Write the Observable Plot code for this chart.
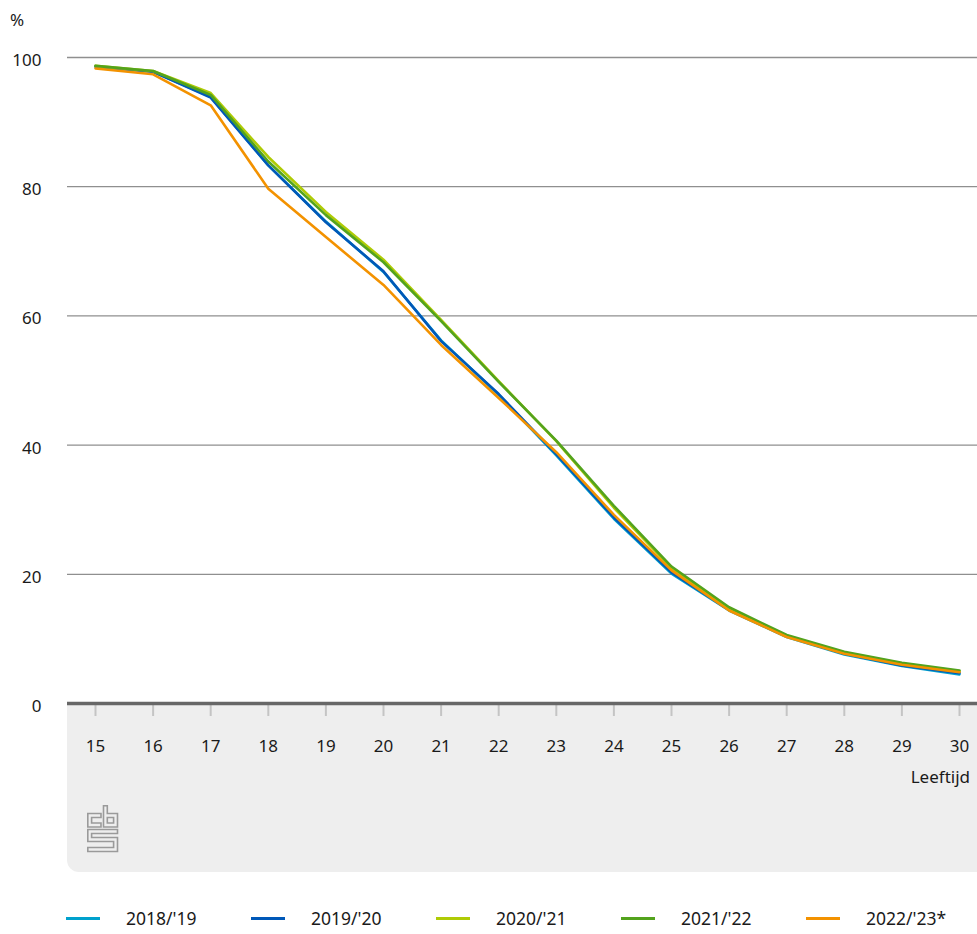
<!DOCTYPE html>
<html>
<head>
<meta charset="utf-8">
<script src="https://cdn.jsdelivr.net/npm/d3@7"></script>
<script src="https://cdn.jsdelivr.net/npm/@observablehq/plot@0.6"></script>
<style>
  html, body { margin: 0; padding: 0; background: #fff; }
  body { width: 977px; font-family: "Noto Sans", sans-serif; color: #1a1a1a; }
  #legend { position: relative; height: 54px; font-size: 17.5px; }
  .item { position: absolute; top: 28px; display: flex; align-items: center; height: 20px; }
  .sw { width: 34px; height: 3px; margin-right: 26px; }
</style>
</head>
<body>
<div id="chart"></div>
<div id="legend"></div>
<script>
const ages = [15, 16, 17, 18, 19, 20, 21, 22, 23, 24, 25, 26, 27, 28, 29, 30];
const years = ["2018/'19", "2019/'20", "2020/'21", "2021/'22", "2022/'23*"];
const colors = ["#00a1cd", "#0058b8", "#afcb05", "#53a31d", "#f39200"];
const v2018 = [98.6, 97.8, 93.9, 83.3, 74.6, 66.8, 56.2, 47.8, 38.4, 28.6, 20.1, 14.4, 10.3, 7.6, 5.8, 4.5];
const v2019 = [98.6, 97.8, 93.8, 83.3, 74.5, 66.9, 56.1, 47.9, 38.6, 28.8, 20.3, 14.5, 10.4, 7.7, 5.9, 4.7];
const v2020 = [98.7, 97.9, 94.5, 84.6, 76.1, 68.7, 59.4, 49.9, 40.6, 30.3, 21.0, 14.7, 10.5, 7.9, 6.2, 5.0];
const v2021 = [98.7, 97.9, 94.2, 83.9, 75.6, 68.3, 59.2, 49.8, 40.7, 30.6, 21.2, 14.9, 10.6, 8.0, 6.3, 5.1];
const v2022 = [98.3, 97.4, 92.6, 79.7, 72.2, 64.8, 55.5, 47.3, 38.9, 29.2, 20.6, 14.4, 10.3, 7.7, 6.0, 4.85];
const yTicks = [0, 20, 40, 60, 80, 100];
const xLabel = "Leeftijd";
const yUnit = "%";

const series = [v2018, v2019, v2020, v2021, v2022];
const data = years.flatMap((yr, i) => ages.map((a, j) => ({age: a, value: series[i][j], year: yr})));

const FONT = "'Noto Sans', sans-serif";
const svgNS = "http://www.w3.org/2000/svg";

// grey band below the axis, with the axis label and logo
function band(index, scales, values, dim) {
  const g = document.createElementNS(svgNS, "g");
  const x0 = dim.marginLeft, x1 = dim.width - dim.marginRight;
  const y0 = dim.height - dim.marginBottom, y1 = dim.height - 8, r = 12;
  const p = document.createElementNS(svgNS, "path");
  p.setAttribute("d", `M${x0},${y0}H${x1}V${y1}H${x0 + r}A${r},${r} 0 0 1 ${x0},${y1 - r}Z`);
  p.setAttribute("fill", "#eeeeee");
  g.appendChild(p);
  const t = document.createElementNS(svgNS, "text");
  t.setAttribute("x", x1 - 7);
  t.setAttribute("y", y0 + 80);
  t.setAttribute("text-anchor", "end");
  t.setAttribute("font-size", "17");
  t.setAttribute("font-family", FONT);
  t.setAttribute("fill", "#1a1a1a");
  t.textContent = xLabel;
  g.appendChild(t);
  // logo
  const lg = document.createElementNS(svgNS, "g");
  lg.setAttribute("transform", `translate(${x0 + 20},${y0 + 102})`);
  lg.setAttribute("fill", "none");
  lg.setAttribute("stroke", "#9a9a9a");
  lg.setAttribute("stroke-width", "1.6");
  for (const d of [
    "M14,8.5H0.8V22H14V18H4.6V12.5H14Z",
    "M16.5,0.8H20.3V8.5H30.5V22H16.5Z",
    "M20.3,12.5H26.6V18H20.3Z",
    "M0.8,24.5H30.5V28.5H4.6V32.5H30.5V46.5H0.8V42.5H26.6V36.5H0.8Z"
  ]) {
    const pp = document.createElementNS(svgNS, "path");
    pp.setAttribute("d", d);
    lg.appendChild(pp);
  }
  g.appendChild(lg);
  const u = document.createElementNS(svgNS, "text");
  u.setAttribute("x", 17);
  u.setAttribute("y", dim.marginTop - 31);
  u.setAttribute("font-size", "17");
  u.setAttribute("font-family", FONT);
  u.setAttribute("fill", "#1a1a1a");
  u.textContent = yUnit;
  g.appendChild(u);
  return g;
}

const chart = Plot.plot({
  width: 977,
  height: 880,
  marginLeft: 67,
  marginRight: 0,
  marginTop: 57,
  marginBottom: 177,
  style: {fontFamily: FONT, fontSize: "17px", color: "#1a1a1a", background: "#fff"},
  x: {domain: [15, 30], insetLeft: 28, insetRight: 18, label: null},
  y: {domain: [0, 100], label: null},
  color: {domain: years, range: colors},
  marks: [
    band,
    Plot.ruleY(yTicks.filter(d => d > 0), {stroke: "#8f8f8f", strokeWidth: 1.3}),
    Plot.axisY({ticks: yTicks, tickSize: 0, tickPadding: 26, label: null, fill: "#1a1a1a", dy: 3, fontSize: 17}),
    Plot.axisX({ticks: ages, tickFormat: d => String(d), tickSize: 13, tickPadding: 23, stroke: "#c4c4c4", strokeWidth: 2, fill: "#1a1a1a", label: null, fontSize: 17}),
    Plot.ruleY([0], {stroke: "#676767", strokeWidth: 3.5}),
    Plot.lineY(data, {x: "age", y: "value", stroke: "year", strokeWidth: 2.6})
  ]
});
document.getElementById("chart").appendChild(chart);

const legend = document.getElementById("legend");
years.forEach((yr, i) => {
  const it = document.createElement("div");
  it.className = "item";
  it.style.left = (66 + i * 185) + "px";
  const sw = document.createElement("span");
  sw.className = "sw";
  sw.style.background = colors[i];
  const tx = document.createElement("span");
  tx.textContent = yr;
  it.appendChild(sw);
  it.appendChild(tx);
  legend.appendChild(it);
});
</script>
</body>
</html>
